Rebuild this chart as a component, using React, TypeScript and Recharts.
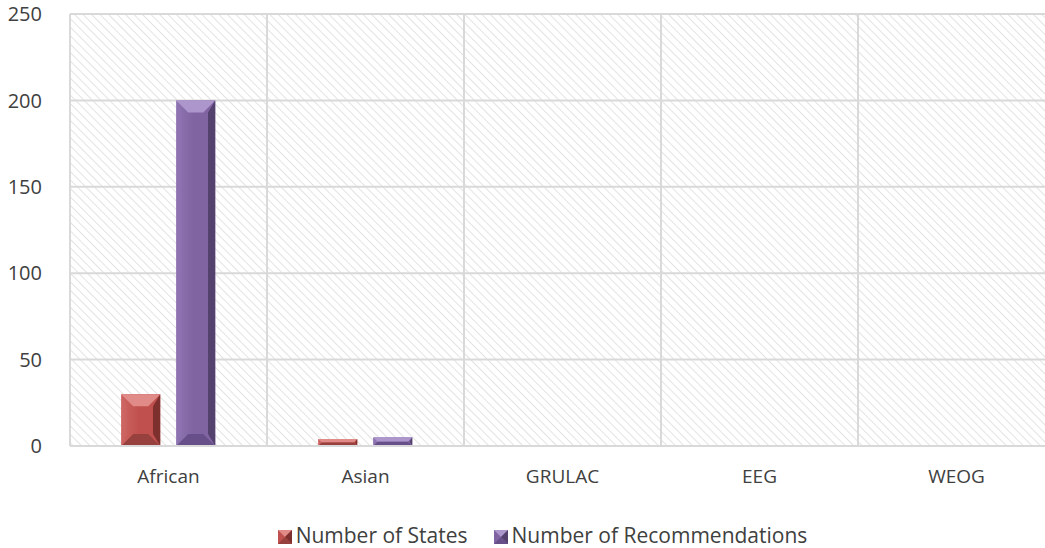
import React from "react";
import { Bar, BarChart, CartesianGrid, Legend, XAxis, YAxis } from "recharts";

const categories = ["African", "Asian", "GRULAC", "EEG", "WEOG"];
const numberOfStates = [30, 4, 0, 0, 0];
const numberOfRecommendations = [200, 5, 0, 0, 0];
const yTicks = [0, 50, 100, 150, 200, 250];

const data = categories.map((name, i) => ({
    name,
    states: numberOfStates[i],
    recommendations: numberOfRecommendations[i],
}));

const PALETTE = {
    states: { base: "#c0504d", light: "#e08b88", side: "#cd6562", dark: "#7e302e", bottom: "#96413e", id: "gradStates" },
    recommendations: { base: "#8064a2", light: "#ad96cc", side: "#8f74b2", dark: "#54416e", bottom: "#67508a", id: "gradRecs" },
};

const FONT = "'Open Sans', 'Liberation Sans', sans-serif";

function BevelRect({ x, y, width, height, colors }: any) {
    if (!height || height <= 0) return null;
    const b = Math.min(12, width / 2, height / 2);
    const x2 = x + width;
    const y2 = y + height;
    return (
        <g>
            <rect x={x} y={y} width={width} height={height} fill={`url(#${colors.id})`} />
            <polygon points={`${x},${y} ${x2},${y} ${x2 - b},${y + b} ${x + b},${y + b}`} fill={colors.light} />
            <polygon points={`${x},${y} ${x + b * 0.45},${y + b} ${x + b * 0.45},${y2 - b} ${x},${y2}`} fill={colors.side} opacity={0.7} />
            <polygon points={`${x2},${y} ${x2},${y2} ${x2 - b * 0.6},${y2 - b} ${x2 - b * 0.6},${y + b}`} fill={colors.dark} />
            <polygon points={`${x},${y2} ${x + b},${y2 - b} ${x2 - b},${y2 - b} ${x2},${y2}`} fill={colors.bottom} />
        </g>
    );
}

function LegendIcon({ colors }: any) {
    return (
        <svg width={14} height={14} style={{ marginRight: 4, verticalAlign: "-1px" }}>
            <rect x={0} y={0} width={14} height={14} fill={colors.base} />
            <polygon points="0,0 14,0 7,7" fill={colors.light} />
            <polygon points="14,0 14,14 7,7" fill={colors.dark} />
            <polygon points="0,14 14,14 7,7" fill={colors.bottom} />
        </svg>
    );
}

function renderLegend() {
    return (
        <div style={{ fontFamily: FONT, fontSize: 21, lineHeight: "26px", color: "#404040", display: "flex", justifyContent: "center", gap: 26 }}>
            <span>
                <LegendIcon colors={PALETTE.states} />
                Number of States
            </span>
            <span>
                <LegendIcon colors={PALETTE.recommendations} />
                Number of Recommendations
            </span>
        </div>
    );
}

function faceGradient(id: string, c: any) {
    return (
        <linearGradient id={id} x1="0" y1="0" x2="1" y2="0">
            <stop offset="0%" stopColor={c.side} />
            <stop offset="45%" stopColor={c.base} />
            <stop offset="100%" stopColor={c.base} />
        </linearGradient>
    );
}

export default function App() {
    return (
        <div style={{ position: "absolute", left: 0, top: 0, width: 1045, height: 548, overflow: "hidden", background: "#fff" }}>
            <svg width={0} height={0} style={{ position: "absolute" }}>
                <defs>
                    <pattern id="hatch" width="6" height="6" patternUnits="userSpaceOnUse" patternTransform="rotate(-45)">
                        <rect width="6" height="6" fill="#ffffff" />
                        <line x1="0" y1="0" x2="0" y2="6" stroke="#e3e3e3" strokeWidth={2} />
                    </pattern>
                    {faceGradient(PALETTE.states.id, PALETTE.states)}
                    {faceGradient(PALETTE.recommendations.id, PALETTE.recommendations)}
                </defs>
            </svg>
            <BarChart
                width={1060}
                height={548}
                data={data}
                margin={{ top: 14, right: 5, bottom: 0, left: 0 }}
                barCategoryGap="26%"
                barGap={16}
            >
                <CartesianGrid
                    stroke="#d9d9d9"
                    strokeWidth={2}
                    fill="url(#hatch)"
                    fillOpacity={1}
                    verticalCoordinatesGenerator={({ offset }: any) =>
                        categories.map((_, i) => offset.left + (i * offset.width) / categories.length)
                    }
                />
                <XAxis
                    dataKey="name"
                    height={76}
                    tickLine={false}
                    axisLine={{ stroke: "#d9d9d9", strokeWidth: 2 }}
                    tick={{ fontFamily: FONT, fontSize: 19, fill: "#404040" }}
                    tickMargin={18}
                />
                <YAxis
                    width={70}
                    domain={[0, 250]}
                    ticks={yTicks}
                    tickLine={false}
                    axisLine={false}
                    tick={{ fontFamily: FONT, fontSize: 20, fill: "#404040" }}
                    tickMargin={22}
                />
                <Legend content={renderLegend} verticalAlign="bottom" wrapperStyle={{ left: 0, width: 1085, bottom: 0 }} />
                <Bar
                    dataKey="states"
                    name="Number of States"
                    fill={PALETTE.states.base}
                    isAnimationActive={false}
                    shape={(p: any) => <BevelRect {...p} colors={PALETTE.states} />}
                />
                <Bar
                    dataKey="recommendations"
                    name="Number of Recommendations"
                    fill={PALETTE.recommendations.base}
                    isAnimationActive={false}
                    shape={(p: any) => <BevelRect {...p} colors={PALETTE.recommendations} />}
                />
            </BarChart>
        </div>
    );
}
